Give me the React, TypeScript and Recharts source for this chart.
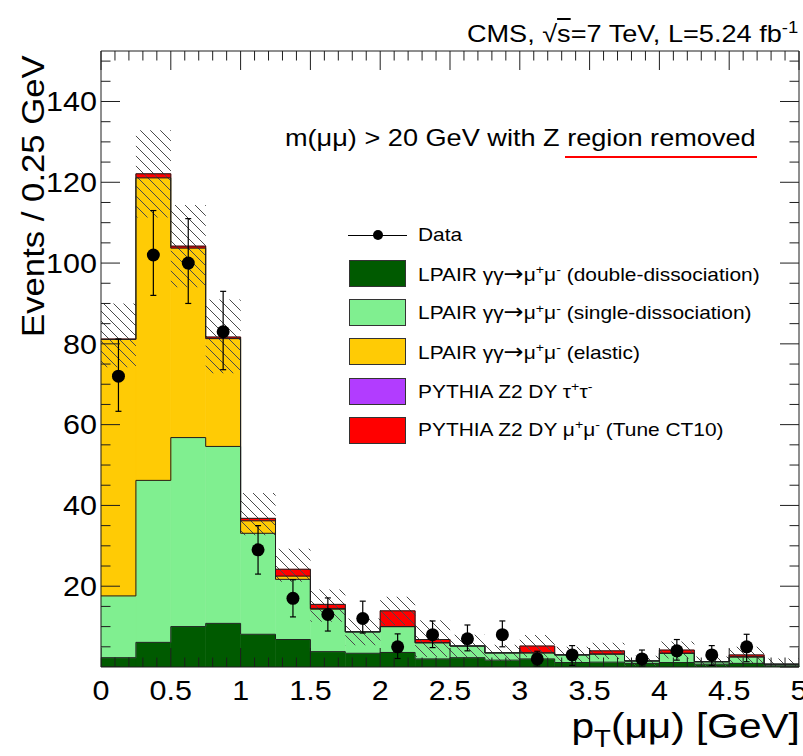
import React from 'react';
import { ComposedChart, Bar, Line, Scatter, XAxis, YAxis, ErrorBar } from 'recharts';

// ---------------- data ----------------
const binLabels = [
  '0.00-0.25', '0.25-0.50', '0.50-0.75', '0.75-1.00', '1.00-1.25', '1.25-1.50', '1.50-1.75', '1.75-2.00',
  '2.00-2.25', '2.25-2.50', '2.50-2.75', '2.75-3.00', '3.00-3.25', '3.25-3.50', '3.50-3.75', '3.75-4.00',
  '4.00-4.25', '4.25-4.50', '4.50-4.75', '4.75-5.00',
];
const binEdges = [0, 0.25, 0.5, 0.75, 1, 1.25, 1.5, 1.75, 2, 2.25, 2.5, 2.75, 3, 3.25, 3.5, 3.75, 4, 4.25, 4.5, 4.75, 5];

// LPAIR double-dissociation
const doubleDiss = [2.3, 6.1, 10.0, 10.8, 8.1, 6.8, 3.8, 3.4, 3.6, 2.0, 2.3, 1.7, 2.0, 1.1, 1.2, 0.9, 1.1, 0.7, 0.9, 0.3];
// LPAIR single-dissociation
const singleDiss = [15.3, 40.1, 46.8, 43.8, 25.0, 14.9, 10.5, 5.3, 6.4, 4.0, 2.9, 1.8, 1.5, 1.9, 2.0, 0.6, 2.3, 0.6, 1.6, 0.4];
// LPAIR elastic
const elastic = [63.5, 74.9, 46.9, 26.7, 3.1, 0.8, 0.2, 0, 0, 0, 0, 0, 0, 0, 0, 0, 0, 0, 0, 0];
// PYTHIA Z2 DY tau tau
const dyTauTau = [0, 0, 0, 0, 0, 0, 0, 0, 0, 0, 0, 0, 0, 0, 0, 0, 0, 0, 0, 0];
// PYTHIA Z2 DY mu mu
const dyMuMu = [0.1, 1.0, 0.5, 0.4, 0.6, 1.7, 1.0, 0, 3.9, 0.8, 0, 0, 1.7, 0, 0.8, 0, 0.8, 0, 0.5, 0];

// systematic band (hatched)
const bandLow = [74.2, 111.3, 94.0, 72.7, 32.6, 21.1, 11.2, 5.4, 10.4, 2.5, 2.4, 1.5, 2.5, 1.0, 2.0, 0.3, 2.1, 0.0, 1.0, 0.0];
const bandHigh = [90.0, 132.9, 114.4, 91.0, 43.1, 29.3, 19.2, 12.0, 17.4, 11.6, 8.0, 5.5, 7.9, 5.0, 6.0, 2.8, 6.3, 2.6, 5.0, 2.1];

// data points
const dataObs: (number | null)[] = [72, 102, 100, 83, 29, 17, 13, 12, 5, 8, 7, 8, 2, 3, null, 2, 4, 3, 5, null];
const dataErrLow: (number | null)[] = [63.3, 92, 90, 73.6, 23, 12.4, 8.9, 8.4, 2.1, 4.8, 4.0, 5.0, 0.2, 0.4, null, 0.2, 1.7, 0.4, 1.3, null];
const dataErrHigh: (number | null)[] = [81.2, 113, 111, 93, 35, 21.6, 17.1, 16.3, 8.2, 11.4, 10.4, 11.4, 3.9, 5.3, null, 4.2, 6.8, 5.3, 8.1, null];

// axis ticks
const yTicks = [0, 5, 10, 15, 20, 25, 30, 35, 40, 45, 50, 55, 60, 65, 70, 75, 80, 85, 90, 95, 100, 105, 110, 115, 120, 125, 130, 135, 140, 145, 150];
const yMajor = [20, 40, 60, 80, 100, 120, 140];
const xTicks = [
  0, 0.1, 0.2, 0.3, 0.4, 0.5, 0.6, 0.7, 0.8, 0.9, 1, 1.1, 1.2, 1.3, 1.4, 1.5, 1.6, 1.7, 1.8, 1.9, 2,
  2.1, 2.2, 2.3, 2.4, 2.5, 2.6, 2.7, 2.8, 2.9, 3, 3.1, 3.2, 3.3, 3.4, 3.5, 3.6, 3.7, 3.8, 3.9, 4,
  4.1, 4.2, 4.3, 4.4, 4.5, 4.6, 4.7, 4.8, 4.9, 5,
];
const xMajor = [0, 0.5, 1, 1.5, 2, 2.5, 3, 3.5, 4, 4.5, 5];
const Y_MAX = 152.5;

// ---------------- derived tables ----------------
const COLORS = {
  dd: '#005a00',
  sd: '#80ef90',
  el: '#ffcb05',
  tau: '#b23cff',
  dy: '#ff0000',
};

const binData = binLabels.map((bin, i) => ({
  bin,
  dd: doubleDiss[i],
  sd: singleDiss[i],
  el: elastic[i],
  tau: dyTauTau[i],
  dy: dyMuMu[i],
  band: [bandLow[i], bandHigh[i]],
}));

const cum = binLabels.map((_, i) => {
  const c1 = doubleDiss[i];
  const c2 = c1 + singleDiss[i];
  const c3 = c2 + elastic[i];
  const c4 = c3 + dyTauTau[i];
  const c5 = c4 + dyMuMu[i];
  return { c1, c2, c3, c4, c5 };
});
const edgeData = binEdges.map((x, i) => ({ x, ...cum[Math.min(i, cum.length - 1)] }));

const obsData = binLabels
  .map((_, i) => {
    const v = dataObs[i];
    if (v === null) return null;
    const x = (binEdges[i] + binEdges[i + 1]) / 2;
    return { x, y: v, err: [v - (dataErrLow[i] as number), (dataErrHigh[i] as number) - v] };
  })
  .filter((d) => d !== null);

const isMajorX = (v: number) => xMajor.some((m) => Math.abs(m - v) < 1e-6);
const isMajorY = (v: number) => v === 0 || yMajor.indexOf(v) >= 0;

// tick marks drawn on top of the fills (ROOT style, inside the frame)
const bottomTickMarks = xTicks.map((x) => ({ x, y: 0, major: isMajorX(x) }));
const leftTickMarks = yTicks.map((y) => ({ x: 0, y, major: isMajorY(y) }));

// ---------------- styling helpers ----------------
const FONT = '"Liberation Sans", Arial, Helvetica, sans-serif';
const AX = '#1e1e1e';
const MAJ = 19;
const MIN = 9.5;
const TXT_SCALE = 1.13;

const LeftTick = (p: any) => {
  const { x, y, payload } = p;
  const v = payload.value;
  return (
    <g>
      {yMajor.indexOf(v) >= 0 && (
        <text
          transform={`translate(${x - 4},${y}) scale(${TXT_SCALE},1)`}
          x={0}
          y={0}
          dy="0.36em"
          textAnchor="end"
          fontSize={27}
          fontFamily={FONT}
          fill="#000"
        >
          {v}
        </text>
      )}
    </g>
  );
};
const RightTick = (p: any) => {
  const { x, y, payload } = p;
  const major = isMajorY(payload.value);
  return <line x1={x} y1={y} x2={x - (major ? MAJ : MIN)} y2={y} stroke={AX} strokeWidth={1} />;
};
const BottomTick = (p: any) => {
  const { x, y, payload } = p;
  const v = payload.value;
  if (!isMajorX(v)) return <g />;
  return (
    <text
      transform={`translate(${x},${y + 33}) scale(${TXT_SCALE},1)`}
      x={0}
      y={0}
      textAnchor="middle"
      fontSize={27}
      fontFamily={FONT}
      fill="#000"
    >
      {String(v)}
    </text>
  );
};
const TopTick = (p: any) => {
  const { x, y, payload } = p;
  const major = isMajorX(payload.value);
  return <line x1={x} y1={y} x2={x} y2={y + (major ? MAJ : MIN)} stroke={AX} strokeWidth={1} />;
};

const BottomMark = (p: any) => (
  <line x1={p.cx} y1={p.cy} x2={p.cx} y2={p.cy - (p.payload.major ? MAJ : MIN)} stroke={AX} strokeWidth={1} />
);
const LeftMark = (p: any) => (
  <line x1={p.cx} y1={p.cy} x2={p.cx + (p.payload.major ? MAJ : MIN)} y2={p.cy} stroke={AX} strokeWidth={1} />
);

const DataDot = (p: any) => <circle cx={p.cx} cy={p.cy} r={6.5} fill="#000" />;

// ---------------- text overlays ----------------
const Txt = ({ left, right, baseline, size, scale = TXT_SCALE, children }: any) => {
  const top = baseline - 0.846 * size;
  const style: React.CSSProperties = {
    position: 'absolute',
    top,
    fontFamily: FONT,
    fontSize: size,
    lineHeight: `${size}px`,
    whiteSpace: 'nowrap',
    color: '#000',
    transform: `scaleX(${scale})`,
  };
  if (right !== undefined) {
    style.right = 803 - right;
    style.transformOrigin = 'right center';
  } else {
    style.left = left;
    style.transformOrigin = 'left center';
  }
  return <div style={style}>{children}</div>;
};

const Sup = ({ children }: any) => (
  <span style={{ fontSize: '68%', position: 'relative', top: '-0.55em' }}>{children}</span>
);
const Sub = ({ children }: any) => (
  <span style={{ fontSize: '68%', position: 'relative', top: '0.35em' }}>{children}</span>
);
const Arrow = () => <span style={{ fontFamily: '"DejaVu Sans", sans-serif', fontSize: '115%' }}>→</span>;

const lpair = (tag: string) => (
  <>
    LPAIR γγ<Arrow />μ<Sup>+</Sup>μ<Sup>-</Sup> ({tag})
  </>
);

const legendRows = [
  { key: 'dd', color: COLORS.dd, label: lpair('double-dissociation') },
  { key: 'sd', color: COLORS.sd, label: lpair('single-dissociation') },
  { key: 'el', color: COLORS.el, label: lpair('elastic') },
  {
    key: 'tau',
    color: COLORS.tau,
    label: (
      <>
        PYTHIA Z2 DY τ<Sup>+</Sup>τ<Sup>-</Sup>
      </>
    ),
  },
  {
    key: 'dy',
    color: COLORS.dy,
    label: (
      <>
        PYTHIA Z2 DY μ<Sup>+</Sup>μ<Sup>-</Sup> (Tune CT10)
      </>
    ),
  },
];
const legendRowCenters = [273.7, 312.5, 351.7, 391.7, 430.3];

export default function App() {
  return (
    <div style={{ position: 'absolute', left: 0, top: 0, width: 803, height: 756, background: '#fff', overflow: 'hidden' }}>
      <ComposedChart
        width={803}
        height={756}
        data={binData}
        margin={{ top: 50, right: 3, bottom: 59, left: 41 }}
        barCategoryGap={0}
        barGap={0}
      >
        <defs>
          <pattern id="hatch" patternUnits="userSpaceOnUse" width="10" height="10">
            <path d="M-2,-2 L12,12 M-7,3 L7,17 M3,-7 L17,7" stroke="#4a4a4a" strokeWidth="1" />
          </pattern>
        </defs>
        <XAxis
          xAxisId="num"
          dataKey="x"
          type="number"
          domain={[0, 5]}
          ticks={xTicks}
          interval={0}
          allowDataOverflow
          tickSize={0}
          tickMargin={0}
          tickLine={false}
          axisLine={{ stroke: AX }}
          tick={(p: any) => <BottomTick {...p} />}
          height={30}
        />
        <XAxis xAxisId="cat" dataKey="bin" type="category" hide height={0} />
        <XAxis xAxisId="hatchX" dataKey="bin" type="category" hide height={0} />
        <XAxis
          xAxisId="top"
          orientation="top"
          dataKey="x"
          type="number"
          domain={[0, 5]}
          ticks={xTicks}
          interval={0}
          allowDataOverflow
          tickSize={0}
          tickMargin={0}
          tickLine={false}
          axisLine={{ stroke: AX }}
          tick={(p: any) => <TopTick {...p} />}
          height={1}
        />
        <YAxis
          yAxisId="y"
          dataKey="y"
          type="number"
          domain={[0, Y_MAX]}
          ticks={yTicks}
          interval={0}
          allowDataOverflow
          tickSize={0}
          tickMargin={0}
          tickLine={false}
          axisLine={{ stroke: AX }}
          tick={(p: any) => <LeftTick {...p} />}
          width={60}
        />
        <YAxis
          yAxisId="r"
          orientation="right"
          type="number"
          domain={[0, Y_MAX]}
          ticks={yTicks}
          interval={0}
          allowDataOverflow
          tickSize={0}
          tickMargin={0}
          tickLine={false}
          axisLine={{ stroke: AX }}
          tick={(p: any) => <RightTick {...p} />}
          width={1}
        />

        <Bar xAxisId="cat" yAxisId="y" stackId="mc" dataKey="dd" fill={COLORS.dd} stroke={COLORS.dd} strokeWidth={0.5} isAnimationActive={false} />
        <Bar xAxisId="cat" yAxisId="y" stackId="mc" dataKey="sd" fill={COLORS.sd} stroke={COLORS.sd} strokeWidth={0.5} isAnimationActive={false} />
        <Bar xAxisId="cat" yAxisId="y" stackId="mc" dataKey="el" fill={COLORS.el} stroke={COLORS.el} strokeWidth={0.5} isAnimationActive={false} />
        <Bar xAxisId="cat" yAxisId="y" stackId="mc" dataKey="tau" fill={COLORS.tau} isAnimationActive={false} />
        <Bar xAxisId="cat" yAxisId="y" stackId="mc" dataKey="dy" fill={COLORS.dy} stroke={COLORS.dy} strokeWidth={0.5} isAnimationActive={false} />

        <Line xAxisId="num" yAxisId="y" data={edgeData} dataKey="c1" type="stepAfter" stroke={AX} strokeWidth={1} dot={false} activeDot={false} isAnimationActive={false} />
        <Line xAxisId="num" yAxisId="y" data={edgeData} dataKey="c2" type="stepAfter" stroke={AX} strokeWidth={1} dot={false} activeDot={false} isAnimationActive={false} />
        <Line xAxisId="num" yAxisId="y" data={edgeData} dataKey="c3" type="stepAfter" stroke={AX} strokeWidth={1} dot={false} activeDot={false} isAnimationActive={false} />
        <Line xAxisId="num" yAxisId="y" data={edgeData} dataKey="c5" type="stepAfter" stroke={AX} strokeWidth={1} dot={false} activeDot={false} isAnimationActive={false} />

        <Bar xAxisId="hatchX" yAxisId="y" dataKey="band" fill="url(#hatch)" isAnimationActive={false} />

        <Scatter xAxisId="num" yAxisId="y" data={bottomTickMarks} shape={(p: any) => <BottomMark {...p} />} isAnimationActive={false} />
        <Scatter xAxisId="num" yAxisId="y" data={leftTickMarks} shape={(p: any) => <LeftMark {...p} />} isAnimationActive={false} />

        <Scatter xAxisId="num" yAxisId="y" data={obsData} shape={(p: any) => <DataDot {...p} />} isAnimationActive={false}>
          <ErrorBar dataKey="err" direction="y" width={3} stroke="#000" strokeWidth={1.2} isAnimationActive={false} />
        </Scatter>
      </ComposedChart>

      {/* top right header */}
      <Txt right={798} baseline={42} size={24}>
        CMS, √<span style={{ textDecoration: 'overline' }}>s</span>=7 TeV, L=5.24 fb<Sup>-1</Sup>
      </Txt>

      {/* annotation */}
      <Txt left={285} baseline={146.7} size={24}>
        m(μμ) &gt; 20 GeV with Z region removed
      </Txt>
      <div style={{ position: 'absolute', left: 565, top: 155.5, width: 192, height: 2.6, background: '#ff0000' }} />

      {/* y title */}
      <div
        style={{
          position: 'absolute',
          left: 44 - 0.846 * 32,
          top: 337,
          fontFamily: FONT,
          fontSize: 32,
          lineHeight: '32px',
          whiteSpace: 'nowrap',
          transformOrigin: '0 0',
          transform: 'rotate(-90deg) scaleX(1.085)',
        }}
      >
        Events / 0.25 GeV
      </div>

      {/* x title */}
      <Txt right={800} baseline={738} size={35} scale={1.16}>
        p<Sub>T</Sub>(μμ) [GeV]
      </Txt>

      {/* legend */}
      <div style={{ position: 'absolute', left: 348, top: 234.5, width: 59, height: 1, background: '#000' }} />
      <div style={{ position: 'absolute', left: 372.5, top: 230, width: 10, height: 10, borderRadius: 5, background: '#000' }} />
      <Txt left={418} baseline={241.6} size={18.5}>
        Data
      </Txt>
      {legendRows.map((r, i) => (
        <React.Fragment key={r.key}>
          <div
            style={{
              position: 'absolute',
              left: 349,
              top: legendRowCenters[i] - 13.5,
              width: 55,
              height: 25,
              background: r.color,
              border: '1px solid #333',
            }}
          />
          <Txt left={418} baseline={legendRowCenters[i] + 6.6} size={18.5}>
            {r.label}
          </Txt>
        </React.Fragment>
      ))}
    </div>
  );
}
